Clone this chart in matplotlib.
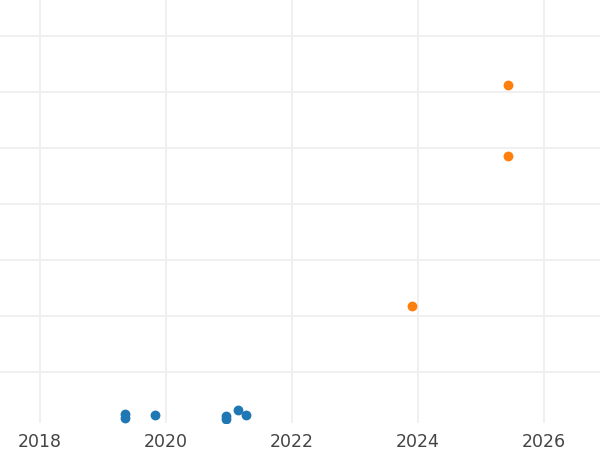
import numpy as np
import matplotlib.pyplot as plt

# older releases (blue) and newer ones (orange); x = decimal year
old_year = [2019.35, 2019.35, 2019.83, 2020.95, 2020.95, 2021.14, 2021.27]
old_val = [25, 18, 23, 21, 16, 32, 23]
new_year = [2023.90, 2025.43, 2025.43]
new_val = [218, 486, 613]

xticks = [2018, 2020, 2022, 2024, 2026]
yticks = [100, 200, 300, 400, 500, 600, 700]

fig = plt.figure(figsize=(6, 4.5), dpi=100)
ax = fig.add_axes([0, 0.06, 1, 0.94])

ax.scatter(old_year, old_val, s=50, color='#1f77b4', zorder=3, linewidths=0)
ax.scatter(new_year, new_val, s=50, color='#ff7f0e', zorder=3, linewidths=0)

ax.set_xlim(2017.365, 2026.89)
ax.set_ylim(9, 764)
ax.set_xticks(xticks)
ax.set_yticks(yticks)
ax.set_yticklabels([])
ax.tick_params(length=0, labelsize=12.5, labelcolor='#444444', pad=7)
ax.grid(True, color='#ededed', linewidth=1.2)
ax.set_axisbelow(True)
for s in ax.spines.values():
    s.set_visible(False)

fig.savefig('out.png', dpi=100)
